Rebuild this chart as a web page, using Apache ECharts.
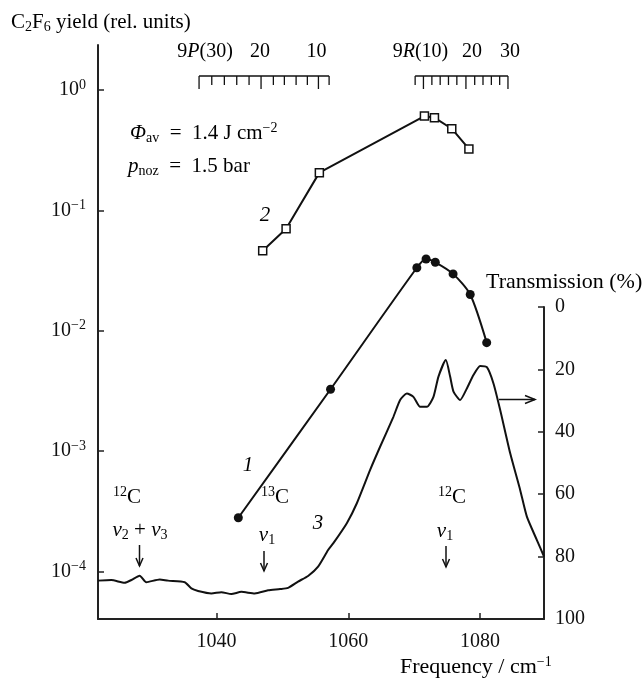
<!DOCTYPE html>
<html>
<head>
<meta charset="utf-8">
<script src="https://cdn.jsdelivr.net/npm/echarts@6/dist/echarts.min.js"></script>
<style>html,body{margin:0;padding:0;background:#fff;}#c{width:642px;height:681px;}</style>
</head>
<body>
<div id="c"></div>
<script>
// ---- data ----
const freq1 = [1043.3, 1057.3, 1070.4, 1071.8, 1073.2, 1075.9, 1078.5, 1081.0];
const yield1 = [2.8e-4, 3.27e-3, 0.0334, 0.0395, 0.0371, 0.0297, 0.0200, 0.00797];

const freq2 = [1047.0, 1050.55, 1055.6, 1071.55, 1073.07, 1075.7, 1078.3];
const yield2 = [0.0462, 0.0705, 0.206, 0.608, 0.589, 0.477, 0.324];

const freq3 = [1022.0, 1024.0, 1026.05, 1027.06, 1028.33, 1029.33, 1031.37, 1032.63, 1035.17, 1036.17,
  1037.19, 1039.21, 1040.72, 1042.24, 1043.76, 1045.8, 1047.82, 1049.64, 1050.85, 1052.37,
  1053.89, 1055.41, 1056.93, 1057.73, 1059.77, 1061.29, 1063.31, 1064.82, 1066.84, 1067.86,
  1068.88, 1069.88, 1070.9, 1071.92, 1072.92, 1073.68, 1074.8, 1075.45, 1075.96, 1076.97,
  1077.99, 1078.99, 1080.01, 1081.03, 1082.03, 1083.05, 1084.57, 1086.09, 1087.1, 1088.62, 1089.7];
const trans3 = [87.7, 87.5, 88.4, 87.5, 86.1, 88.2, 87.3, 87.7, 88.2, 90.2,
  91.0, 91.8, 91.4, 92.0, 91.3, 91.8, 90.8, 90.4, 90.0, 88.0,
  86.2, 83.2, 77.9, 75.7, 69.3, 62.9, 52.2, 44.8, 35.2, 29.8,
  27.7, 28.8, 32.0, 32.0, 28.8, 22.3, 17.0, 22.3, 27.1, 29.8,
  26.1, 21.8, 18.9, 19.3, 24.5, 33.0, 46.9, 58.7, 67.2, 74.7, 80.0];

// laser line scales (top)
const pTickFreq = [1037.34, 1039.27, 1041.18, 1043.06, 1044.93, 1046.75, 1048.62, 1050.29, 1052.07, 1053.78, 1055.46, 1057.08];
const pTickMajor = [1, 0, 0, 0, 0, 1, 0, 0, 0, 0, 1, 0];
const pTickLabels = ['{d|9}{di|P}{d|(30)}', '{d|20}', '{d|10}'];
const rTickFreq = [1070.14, 1071.40, 1072.68, 1073.94, 1075.20, 1076.47, 1077.85, 1079.18, 1080.44, 1081.71, 1082.97, 1084.23];
const rTickMajor = [0, 1, 0, 0, 0, 0, 1, 0, 0, 0, 0, 1];
const rTickLabels = ['{d|9}{di|R}{d|(10)}', '{d|20}', '{d|30}'];

const xTicks = [1040, 1060, 1080];
const yLogTicks = [1e-4, 1e-3, 1e-2, 1e-1, 1];
const transTicks = [0, 20, 40, 60, 80, 100];

// ---- styling ----
const SERIF = '"Liberation Serif", "DejaVu Serif", serif';
const INK = '#111';
const R = {
  n: {fontFamily: SERIF, fontSize: 21, color: INK, lineHeight: 24},
  t: {fontFamily: SERIF, fontSize: 22, color: INK, lineHeight: 24},
  i: {fontFamily: SERIF, fontSize: 21, color: INK, fontStyle: 'italic', lineHeight: 24},
  d: {fontFamily: SERIF, fontSize: 20, color: INK, lineHeight: 24},
  di: {fontFamily: SERIF, fontSize: 20, color: INK, fontStyle: 'italic', lineHeight: 24},
  sup: {fontFamily: SERIF, fontSize: 14, color: INK, verticalAlign: 'top', lineHeight: 14},
  sub: {fontFamily: SERIF, fontSize: 14, color: INK, verticalAlign: 'bottom', lineHeight: 14}
};

const scales = [
  {freq: pTickFreq, major: pTickMajor, labels: pTickLabels, dx: [6, -1, -2]},
  {freq: rTickFreq, major: rTickMajor, labels: rTickLabels, dx: [-3, 6, 2]}
];

const chart = echarts.init(document.getElementById('c'), null, {renderer: 'canvas'});

function supExp(v) {
  const e = Math.round(Math.log10(v));
  return '{d|10}{sup|' + (e < 0 ? '\u2212' + (-e) : e) + '}';
}

function arrowDown(x, y1, y2) {
  return [
    {type: 'line', shape: {x1: x, y1: y1, x2: x, y2: y2}, style: {stroke: INK, lineWidth: 1.5}},
    {type: 'polyline', shape: {points: [[x - 3.5, y2 - 8], [x, y2], [x + 3.5, y2 - 8]]}, style: {stroke: INK, lineWidth: 1.5, fill: null}}
  ];
}
function arrowRight(x1, x2, y) {
  return [
    {type: 'line', shape: {x1: x1, y1: y, x2: x2, y2: y}, style: {stroke: INK, lineWidth: 1.5}},
    {type: 'polyline', shape: {points: [[x2 - 10, y - 4], [x2, y], [x2 - 10, y + 4]]}, style: {stroke: INK, lineWidth: 1.5, fill: null}}
  ];
}
function txt(x, y, text, align) {
  return {type: 'text', x: x, y: y, style: {text: text, rich: R, align: align || 'left', textAlign: align || 'left', verticalAlign: 'middle', textVerticalAlign: 'middle'}};
}

const option = {
  backgroundColor: '#fff',
  animation: false,
  grid: [
    {left: 98, right: 98, top: 45, bottom: 62},
    {left: 98, right: 98, top: 307, bottom: 62}
  ],
  xAxis: [
    {type: 'value', gridIndex: 0, min: 1022, max: 1089.7, position: 'bottom',
      axisLine: {show: true, lineStyle: {color: '#222', width: 2}},
      axisTick: {show: true, inside: true, length: 6, lineStyle: {color: '#222', width: 1.5}, customValues: xTicks},
      axisLabel: {show: true, margin: 13, customValues: xTicks, formatter: v => String(v), fontFamily: SERIF, fontSize: 20, color: INK},
      splitLine: {show: false}},
    {type: 'value', gridIndex: 1, min: 1022, max: 1089.7, show: false}
  ],
  yAxis: [
    {type: 'log', gridIndex: 0, min: Math.pow(10, -4.394), max: Math.pow(10, 0.374), position: 'left',
      axisLine: {show: true, lineStyle: {color: '#222', width: 2}},
      axisTick: {show: true, inside: true, length: 6, lineStyle: {color: '#222', width: 1.5}, customValues: yLogTicks},
      axisLabel: {show: true, margin: 12, customValues: yLogTicks, formatter: supExp, rich: R},
      splitLine: {show: false}, minorTick: {show: false}},
    {type: 'value', gridIndex: 1, min: 0, max: 100, interval: 20, inverse: true, position: 'right',
      axisLine: {show: true, lineStyle: {color: '#222', width: 2}},
      axisTick: {show: true, inside: true, length: 6, lineStyle: {color: '#222', width: 1.5}},
      axisLabel: {show: true, margin: 11, fontFamily: SERIF, fontSize: 20, color: INK},
      splitLine: {show: false}}
  ],
  series: [
    {type: 'line', name: '1', xAxisIndex: 0, yAxisIndex: 0,
      data: freq1.map((f, i) => [f, yield1[i]]),
      smooth: 0.25, symbol: 'circle', symbolSize: 9,
      itemStyle: {color: INK}, lineStyle: {color: INK, width: 2}, z: 3},
    {type: 'line', name: '2', xAxisIndex: 0, yAxisIndex: 0,
      data: freq2.map((f, i) => [f, yield2[i]]),
      symbol: 'rect', symbolSize: 8,
      itemStyle: {color: '#fff', borderColor: INK, borderWidth: 1.5}, lineStyle: {color: INK, width: 2}, z: 3},
    {type: 'line', name: '3', xAxisIndex: 1, yAxisIndex: 1,
      data: freq3.map((f, i) => [f, trans3[i]]),
      smooth: 0.2, symbol: 'none', lineStyle: {color: INK, width: 2}, z: 3},
    {type: 'custom', name: 'laser lines', xAxisIndex: 0, yAxisIndex: 0, clip: false, silent: true,
      data: scales.map(s => [s.freq[0], 1]),
      renderItem: function (params, api) {
        const s = scales[params.dataIndex];
        const y0 = params.coordSys.y + 31;
        const xs = s.freq.map(f => api.coord([f, 1])[0]);
        const children = [{type: 'line', shape: {x1: xs[0], y1: y0, x2: xs[xs.length - 1], y2: y0}, style: {stroke: INK, lineWidth: 1.5}}];
        let li = 0;
        xs.forEach((x, i) => {
          const len = s.major[i] ? 13 : 9;
          children.push({type: 'line', shape: {x1: x, y1: y0, x2: x, y2: y0 + len}, style: {stroke: INK, lineWidth: 1.3}});
          if (s.major[i]) {
            children.push({type: 'text', style: {text: s.labels[li], rich: R, x: x + s.dx[li], y: y0 - 24, align: 'center', verticalAlign: 'middle'}});
            li++;
          }
        });
        return {type: 'group', children: children};
      }}
  ],
  graphic: [].concat(
    [txt(11, 22, '{n|C}{sub|2}{n|F}{sub|6}{n| yield (rel. units)}')],
    [txt(486, 282, '{t|Transmission (%)}')],
    [txt(400, 667, '{t|Frequency / cm}{sup|\u22121}')],
    [txt(130, 133, '{i|\u03A6}{sub|av}{n|\u2002=\u20021.4 J cm}{sup|\u22122}')],
    [txt(128, 166, '{i|p}{sub|noz}{n|\u2002=\u20021.5 bar}')],
    [txt(265, 215, '{i|2}', 'center')],
    [txt(248, 465, '{i|1}', 'center')],
    [txt(318, 523, '{i|3}', 'center')],
    [txt(127, 497, '{sup|12}{n|C}', 'center')],
    [txt(140, 530, '{i|\u03BD}{sub|2}{n| + }{i|\u03BD}{sub|3}', 'center')],
    arrowDown(139.5, 545, 566),
    [txt(275, 497, '{sup|13}{n|C}', 'center')],
    [txt(267, 535, '{i|\u03BD}{sub|1}', 'center')],
    arrowDown(264, 551, 571),
    [txt(452, 497, '{sup|12}{n|C}', 'center')],
    [txt(445, 531, '{i|\u03BD}{sub|1}', 'center')],
    arrowDown(446, 546, 567),
    arrowRight(499, 535, 399.5)
  )
};
chart.setOption(option);
</script>
</body>
</html>
